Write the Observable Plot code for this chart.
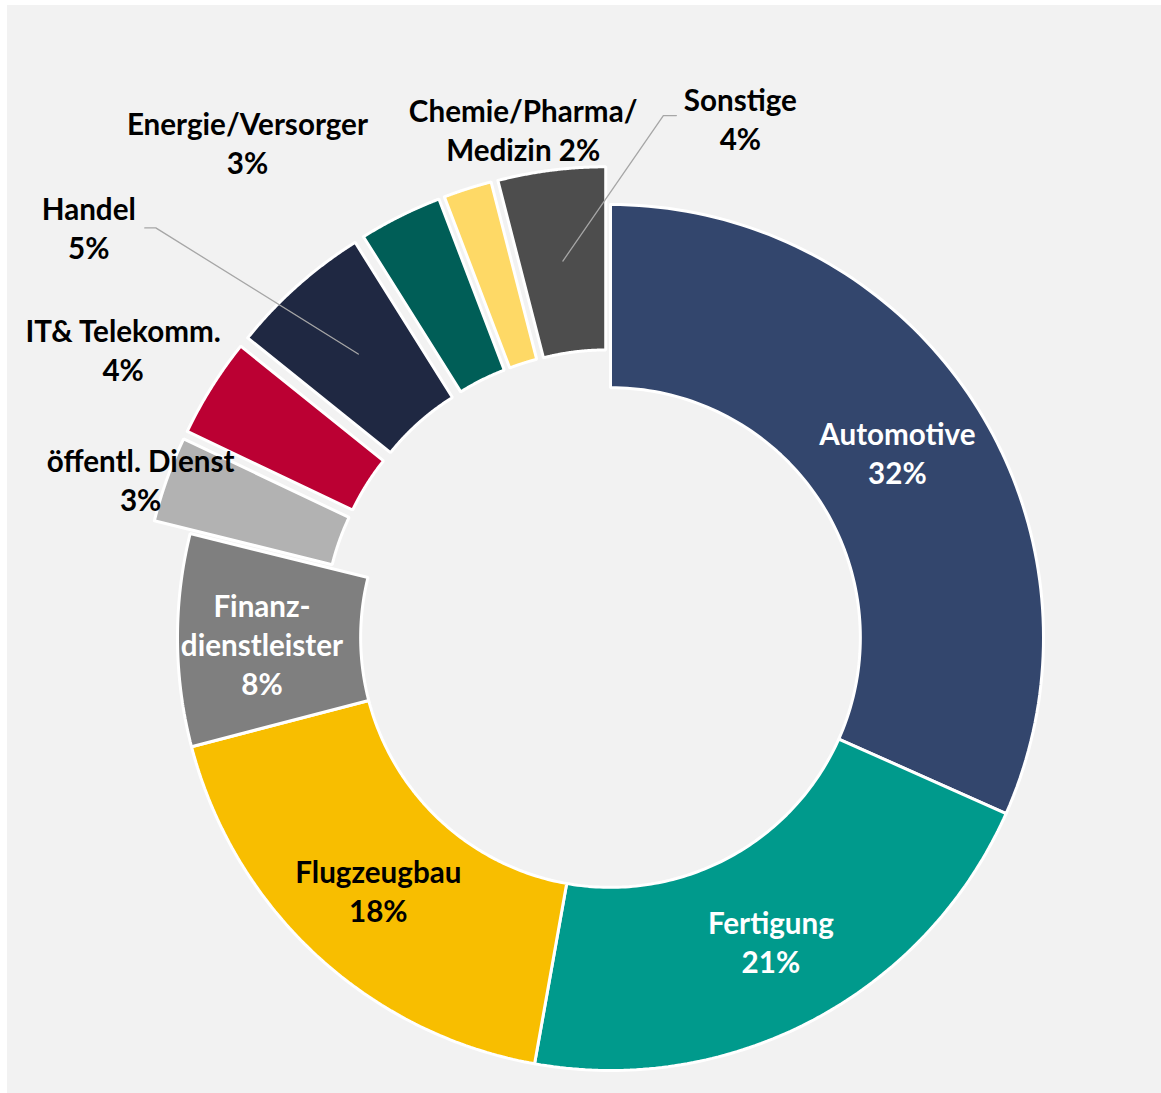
<!DOCTYPE html>
<html>
<head>
<meta charset="utf-8">
<script src="https://cdn.jsdelivr.net/npm/d3@7"></script>
<script src="https://cdn.jsdelivr.net/npm/@observablehq/plot@0.6"></script>
<style>
  html, body { margin: 0; padding: 0; background: #ffffff; }
  #chart { position: absolute; left: 7px; top: 5px; }
  #chart svg { display: block; }
</style>
</head>
<body>
<div id="chart"></div>
<script>
// ---- data (shares in %; labels show them rounded) ----
const categories = ["Automotive", "Fertigung", "Flugzeugbau", "Finanzdienstleister", "öffentl. Dienst",
  "IT& Telekomm.", "Handel", "Energie/Versorger", "Chemie/Pharma/Medizin", "Sonstige"];
const shares = [31.6, 21.1, 18.1, 7.9, 3.2, 3.7, 5.3, 3.1, 1.8, 4.0];
const labelNames = ["Automotive", "Fertigung", "Flugzeugbau", "Finanz-\ndienstleister", "öffentl. Dienst",
  "IT& Telekomm.", "Handel", "Energie/Versorger", "Chemie/Pharma/\nMedizin", "Sonstige"];
const labelSeparators = ["\n", "\n", "\n", "\n", "\n", "\n", "\n", "\n", " ", "\n"];

// ---- styles / layout ----
const colors = ["#33466d", "#009a8c", "#f8be00", "#7f7f7f", "#b2b2b2", "#bb0033", "#1f2842", "#005e57", "#fed966", "#4d4d4d"];
const textColors = ["white", "white", "black", "white", "black", "black", "black", "black", "black", "black"];
const exploded = [false, false, false, false, true, true, true, true, true, true];
// label placement: null = centred inside the ring; otherwise [angle in degrees (clockwise from top), radius in units of outer radius]
const labelPlacement = [null, null, null, [269.2, 0.805], [288.3, 1.143], [300.4, 1.305], [308, 1.529], [323.6, 1.413], [350.2, 1.185], [14.1, 1.231]];
const labelOutside = [false, false, false, false, true, true, true, true, true, true];
// leader lines: start offset (px) from label centre, elbow length (px)
const leaders = [
  {cat: "Handel", dx: 56, dy: -2, elbow: 11},
  {cat: "Sonstige", dx: -64, dy: -5, elbow: -13}
];

const W = 1154, H = 1088;
const CX = 603, CY = 632, R = 433;   // donut centre and outer radius (px)
const INNER = 0.577;                   // hole size relative to outer radius
const EXPLODE = 38 / R;
const LABEL_R = 0.79;
const px = 1 / R;

// ---- geometry ----
const total = d3.sum(shares);
let cum = 0;
const slices = categories.map((cat, i) => {
  const a0 = cum / total * 2 * Math.PI;
  cum += shares[i];
  const a1 = cum / total * 2 * Math.PI;
  const mid = (a0 + a1) / 2;
  const off = exploded[i] ? EXPLODE : 0;
  return {cat, i, a0, a1, mid, ox: off * Math.sin(mid), oy: off * Math.cos(mid)};
});

const N = 90;
const slicePoints = [];
for (const s of slices) {
  const pts = [];
  for (let k = 0; k <= N; ++k) {
    const a = s.a0 + (s.a1 - s.a0) * k / N;
    pts.push({cat: s.cat, x: s.ox + Math.sin(a), y: s.oy + Math.cos(a)});
  }
  for (let k = N; k >= 0; --k) {
    const a = s.a0 + (s.a1 - s.a0) * k / N;
    pts.push({cat: s.cat, x: s.ox + INNER * Math.sin(a), y: s.oy + INNER * Math.cos(a)});
  }
  pts.push({...pts[0]});
  slicePoints.push(...pts);
}

const labelRows = slices.map(s => {
  const p = labelPlacement[s.i];
  let x, y;
  if (p) {
    const a = p[0] * Math.PI / 180;
    x = p[1] * Math.sin(a); y = p[1] * Math.cos(a);
  } else {
    x = s.ox + LABEL_R * Math.sin(s.mid); y = s.oy + LABEL_R * Math.cos(s.mid);
  }
  const pct = Math.round(shares[s.i] / total * 100);
  return {cat: s.cat, x, y, text: labelNames[s.i] + labelSeparators[s.i] + pct + "%",
    color: textColors[s.i], outside: labelOutside[s.i]};
});

const leaderPoints = [];
for (const l of leaders) {
  const lab = labelRows.find(d => d.cat === l.cat);
  const s = slices.find(d => d.cat === l.cat);
  const sx = lab.x + l.dx * px, sy = lab.y - l.dy * px;
  leaderPoints.push({cat: l.cat, x: sx, y: sy});
  leaderPoints.push({cat: l.cat, x: sx + l.elbow * px, y: sy});
  const rm = (1 + INNER) / 2;
  leaderPoints.push({cat: l.cat, x: s.ox + rm * Math.sin(s.mid), y: s.oy + rm * Math.cos(s.mid)});
}

const FS = 29.6;
const textOpts = {x: "x", y: "y", text: "text", fontSize: FS, fontWeight: "bold",
  fontFamily: "Lato, 'Open Sans', sans-serif", lineHeight: 39 / FS, textAnchor: "middle"};

const chart = Plot.plot({
  width: W,
  height: H,
  margin: 0,
  x: {domain: [-CX / R, (W - CX) / R], axis: null},
  y: {domain: [-(H - CY) / R, CY / R], axis: null},
  color: {domain: categories, range: colors},
  style: {background: "#f2f2f2"},
  marks: [
    Plot.line(slicePoints, {x: "x", y: "y", z: "cat", fill: "cat", stroke: "white", strokeWidth: 3,
      strokeLinejoin: "miter", curve: "linear"}),
    Plot.line(leaderPoints, {x: "x", y: "y", z: "cat", stroke: "#a6a6a6", strokeWidth: 1.3, curve: "linear"}),
    Plot.text(labelRows.filter(d => !d.outside && d.color === "white"), {...textOpts, dy: 1, fill: "white"}),
    Plot.text(labelRows.filter(d => !d.outside && d.color === "black"), {...textOpts, dy: 1, fill: "black"}),
    Plot.text(labelRows.filter(d => d.outside), {...textOpts, dy: -3, fill: "black"})
  ]
});
document.getElementById("chart").appendChild(chart);
</script>
</body>
</html>
